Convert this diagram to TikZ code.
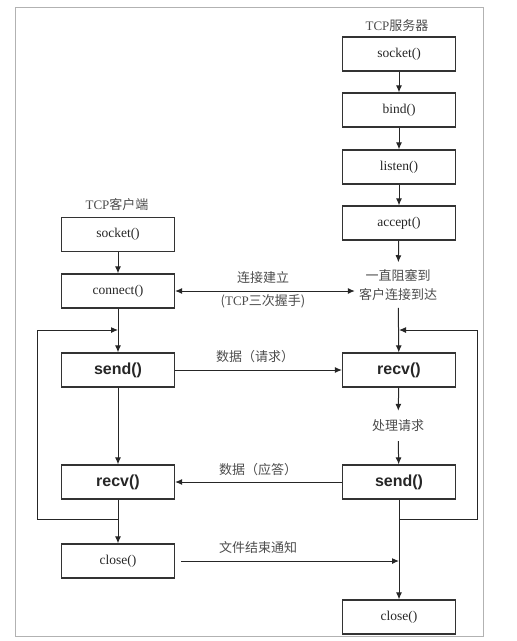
\documentclass[tikz,border=0pt]{standalone}
\usepackage{fontspec}
\setmainfont{Liberation Serif}
\newfontfamily\boldsans{Liberation Sans}
\newfontfamily\cjk{Noto Sans CJK SC}
\usetikzlibrary{arrows.meta}

\tikzset{
    fn/.style={draw=black!80, line width=1.2pt, minimum width=113pt, minimum height=34pt,
        inner sep=0pt, text=black!85, font=\fontsize{13.5}{16}\selectfont},
    io/.style={fn, font=\boldsans\bfseries\fontsize{16}{18}\selectfont},
    lbl/.style={text=black!70, align=center, font=\cjk\fontsize{13}{19}\selectfont},
    flow/.style={draw=black!85, line width=1pt, -{Latex[length=7pt,width=6pt]}},
}

\begin{document}
\begin{tikzpicture}[x=1pt,y=-1pt]
    \useasboundingbox (0,0) rectangle (517,641);
    \draw[black!30, line width=1pt] (15,7) rectangle (483,636);

    % server side
    \node[lbl] (stitle) at (397,26) {\rmfamily TCP\cjk 服务器};
    \node[fn] (ssock) at (399,54) {socket()};
    \node[fn] (sbind) at (399,110) {bind()};
    \node[fn] (slisten) at (399,167) {listen()};
    \node[fn] (saccept) at (399,223) {accept()};
    \node[lbl, inner xsep=4pt, inner ysep=7pt] (swait) at (398,285) {一直阻塞到\\客户连接到达};
    \node[io] (srecv) at (399,370) {recv()};
    \node[lbl, inner xsep=2pt, inner ysep=9pt] (sproc) at (398,426) {处理请求};
    \node[io] (ssend) at (399,482) {send()};
    \node[fn] (sclose) at (399,617) {close()};

    % client side
    \node[lbl] (ctitle) at (117,205) {\rmfamily TCP\cjk 客户端};
    \node[fn] (csock) at (118,234.5) {socket()};
    \node[fn] (cconn) at (118,291) {connect()};
    \node[io] (csend) at (118,370) {send()};
    \node[io] (crecv) at (118,482) {recv()};
    \node[fn] (cclose) at (118,561) {close()};

    % loop points
    \coordinate (cback) at (118,519);
    \coordinate (cin) at (118,330);
    \coordinate (sback) at (399,519);
    \coordinate (sin) at (399,330);

    \draw[flow] (ssock) -- (sbind);
    \draw[flow] (sbind) -- (slisten);
    \draw[flow] (slisten) -- (saccept);
    \draw[flow] (saccept) -- (swait);
    \draw[flow] (swait) -- (srecv);
    \draw[flow] (srecv) -- (sproc);
    \draw[flow] (sproc) -- (ssend);
    \draw[flow] (ssend) -- (sclose);

    \draw[flow] (csock) -- (cconn);
    \draw[flow] (cconn) -- (csend);
    \draw[flow] (csend) -- (crecv);
    \draw[flow] (crecv) -- (cclose);

    \draw[flow] (cback) -- ++(-81,0) |- (cin);
    \draw[flow] (sback) -- ++(78,0) |- (sin);

    % messages
    \draw[flow, {Latex[length=7pt,width=6pt]}-{Latex[length=7pt,width=6pt]}]
        (cconn.east) -- (cconn.east -| swait.west);
    \node[lbl] (conn1) at (263,278) {连接建立};
    \node[lbl] (conn2) at (263,301) {(\rmfamily TCP\cjk 三次握手)};

    \draw[flow] (csend) -- (srecv);
    \node[lbl] (req) at (255,357) {数据（请求）};

    \draw[flow] (ssend) -- (crecv);
    \node[lbl] (resp) at (258,470) {数据（应答）};

    \draw[flow, shorten <=6pt] (cclose.east) -- (cclose.east -| sclose.north);
    \node[lbl] (eof) at (258,548) {文件结束通知};
\end{tikzpicture}
\end{document}
